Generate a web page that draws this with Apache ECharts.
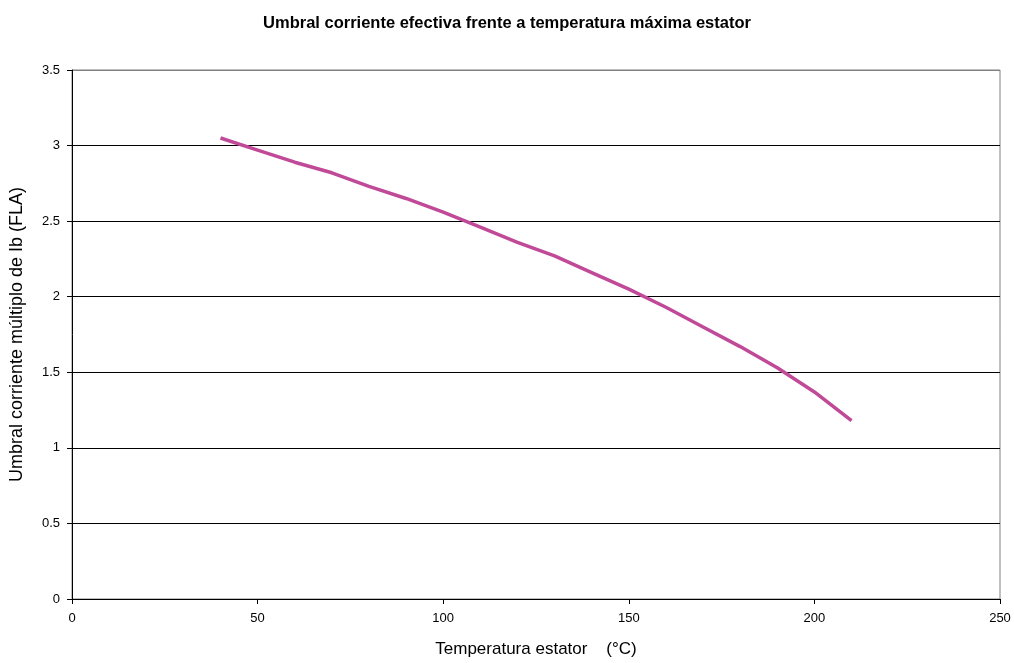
<!DOCTYPE html>
<html>
<head>
<meta charset="utf-8">
<script src="https://cdn.jsdelivr.net/npm/echarts@6/dist/echarts.min.js"></script>
<style>
  html, body { margin: 0; padding: 0; background: #fff; }
  #chart { width: 1014px; height: 663px; }
</style>
</head>
<body>
<div id="chart"></div>
<script>
// datos
const temperaturas = [40, 50, 60, 70, 80, 90, 100, 110, 120, 130, 140, 150, 160, 170, 180, 190, 200, 210];
const umbral = [3.05, 2.97, 2.89, 2.82, 2.73, 2.65, 2.56, 2.46, 2.36, 2.27, 2.16, 2.05, 1.93, 1.80, 1.67, 1.53, 1.37, 1.18];

const titulo = 'Umbral corriente efectiva frente a temperatura máxima estator';
const ejeX = 'Temperatura estator    (°C)';
const ejeY = 'Umbral corriente múltiplo de Ib (FLA)';

const chart = echarts.init(document.getElementById('chart'));

const fuente = '"Liberation Sans", Arial, sans-serif';

chart.setOption({
    animation: false,
    backgroundColor: '#fff',
    title: {
        text: titulo,
        left: 'center',
        top: 10,
        textStyle: { fontFamily: fuente, fontSize: 16.5, fontWeight: 'bold', color: '#000' }
    },
    grid: {
        left: 72, right: 14, top: 70, bottom: 63,
        show: true,
        borderColor: '#808080',
        borderWidth: 1
    },
    xAxis: {
        type: 'value',
        min: 0, max: 250, interval: 50,
        name: ejeX,
        nameLocation: 'middle',
        nameGap: 42,
        nameTextStyle: { fontFamily: fuente, fontSize: 17, color: '#000' },
        axisLine: { show: true, lineStyle: { color: '#000', width: 1 } },
        axisTick: { show: true, length: 5, lineStyle: { color: '#000' } },
        axisLabel: { fontFamily: fuente, fontSize: 13, color: '#000', margin: 13 },
        splitLine: { show: false }
    },
    yAxis: {
        type: 'value',
        min: 0, max: 3.5, interval: 0.5,
        name: ejeY,
        nameLocation: 'middle',
        nameGap: 46,
        nameTextStyle: { fontFamily: fuente, fontSize: 18, color: '#000' },
        axisLine: { show: true, lineStyle: { color: '#000', width: 1 } },
        axisTick: { show: true, length: 5, lineStyle: { color: '#000' } },
        axisLabel: { fontFamily: fuente, fontSize: 13, color: '#000', margin: 12 },
        splitLine: {
            show: true,
            lineStyle: { color: ['#000', '#000', '#000', '#000', '#000', '#000', '#000', '#808080'], width: 1 }
        }
    },
    series: [{
        type: 'line',
        data: temperaturas.map((t, i) => [t, umbral[i]]),
        showSymbol: false,
        lineStyle: { color: '#C04A98', width: 3.5 },
        itemStyle: { color: '#C04A98' }
    }]
});
</script>
</body>
</html>
